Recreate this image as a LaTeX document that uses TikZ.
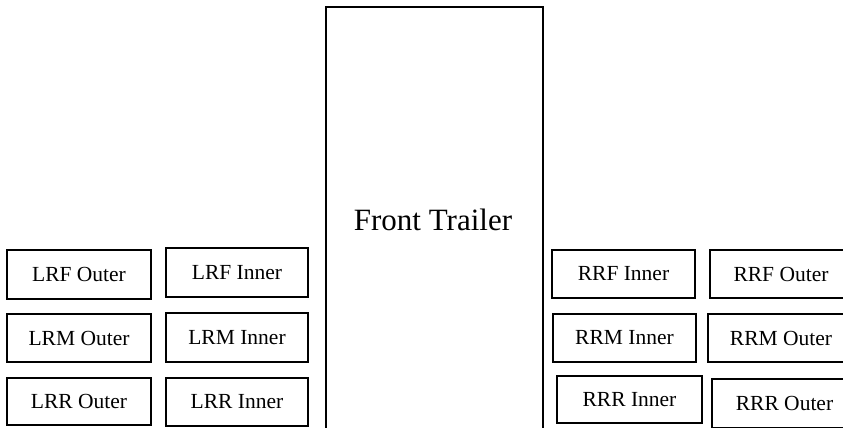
\documentclass[tikz,border=0pt]{standalone}
\usepackage{fontspec}
\setmainfont{Liberation Serif}
\begin{document}
\begin{tikzpicture}[x=1pt,y=-1pt,
  wheel/.style={draw,line width=2.2pt,rectangle,inner sep=0pt,font=\fontsize{21.5}{24}\selectfont},
  trail/.style={draw,line width=2pt,rectangle,inner sep=0pt,anchor=north west}]
\useasboundingbox (0,0) rectangle (843,428);
\clip (0,0) rectangle (843,428);
\node[trail,minimum width=217pt,minimum height=440pt] (trailer) at (325,6) {};
\node[font=\fontsize{31}{34}\selectfont] (title) at (433,220) {Front Trailer};
% left side
\node[wheel,minimum width=144pt,minimum height=49pt] (lrfo) at (79,274.5) {LRF Outer};
\node[wheel,minimum width=142pt,minimum height=49pt] (lrfi) at (237,272.5) {LRF Inner};
\node[wheel,minimum width=144pt,minimum height=48pt] (lrmo) at (79,338) {LRM Outer};
\node[wheel,minimum width=142pt,minimum height=49pt] (lrmi) at (237,337.5) {LRM Inner};
\node[wheel,minimum width=144pt,minimum height=47pt] (lrro) at (79,401.5) {LRR Outer};
\node[wheel,minimum width=142pt,minimum height=48pt] (lrri) at (237,402) {LRR Inner};
% right side
\node[wheel,minimum width=143pt,minimum height=48pt] (rrfi) at (623.5,274) {RRF Inner};
\node[wheel,minimum width=142pt,minimum height=48pt] (rrfo) at (781,274) {RRF Outer};
\node[wheel,minimum width=143pt,minimum height=48pt] (rrmi) at (624.5,338) {RRM Inner};
\node[wheel,minimum width=146pt,minimum height=48pt] (rrmo) at (781,338) {RRM Outer};
\node[wheel,minimum width=145pt,minimum height=47pt] (rrri) at (629.5,399.5) {RRR Inner};
\node[wheel,minimum width=145pt,minimum height=49pt] (rrro) at (784.5,403.5) {RRR Outer};
\end{tikzpicture}
\end{document}
